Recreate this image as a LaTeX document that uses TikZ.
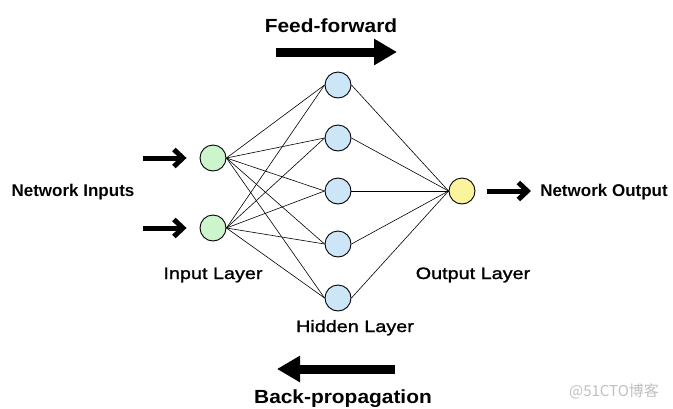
\documentclass[tikz,border=0pt]{standalone}
\usepackage{fontspec}
\setmainfont{Liberation Sans}
\newfontfamily\bigfont[FakeStretch=1.1]{Liberation Sans}
\newfontfamily\layerfont[FakeStretch=1.2,FakeBold=1.3]{Liberation Sans}
\newfontfamily\cjkfont{Noto Sans CJK SC}
\usetikzlibrary{arrows.meta}
\definecolor{ingreen}{HTML}{CCF5CC}
\definecolor{hidblue}{HTML}{CCE6F8}
\definecolor{outyellow}{HTML}{FAF59C}
\begin{document}
\begin{tikzpicture}[x=1pt,y=-1pt,
  neuron/.style={circle, draw=black, line width=0.9pt, minimum size=26pt, inner sep=0pt},
  inneuron/.style={neuron, fill=ingreen},
  hidneuron/.style={neuron, fill=hidblue},
  outneuron/.style={neuron, fill=outyellow},
  link/.style={line width=0.6pt},
  fatarrow/.style={line width=5pt, -{Straight Barb[length=9pt,width=17pt]}},
  bigarrow/.style={line width=9pt, -{Triangle[length=23pt,width=25pt]}},
  bigtext/.style={font=\bigfont\bfseries\fontsize{19}{22}\selectfont, anchor=base, inner sep=0pt},
  iotext/.style={font=\bfseries\fontsize{17}{20}\selectfont, anchor=base, inner sep=0pt},
  layertext/.style={font=\layerfont\fontsize{16.5}{19}\selectfont, anchor=base, inner sep=0pt},
  marktext/.style={font=\cjkfont\fontsize{15}{18}\selectfont, text=black!25, anchor=base, inner sep=0pt}
]
\useasboundingbox (0,0) rectangle (673,408);

% neurons
\node[inneuron] (i1) at (213,158) {};
\node[inneuron] (i2) at (213,228) {};
\node[hidneuron] (h1) at (338,85) {};
\node[hidneuron] (h2) at (338,138) {};
\node[hidneuron] (h3) at (338,191) {};
\node[hidneuron] (h4) at (338,244) {};
\node[hidneuron] (h5) at (338,298) {};
\node[outneuron] (o) at (462,191) {};

% links
\foreach \i in {i1,i2}{
  \foreach \h in {h1,h2,h3,h4,h5}{
    \draw[link] (\i.east) -- (\h.west);
  }
}
\foreach \h in {h1,h2,h3,h4,h5}{
  \draw[link] (\h.east) -- (o.west);
}

% input / output arrows
\coordinate (a1) at (143,158);
\coordinate (a2) at (143,228);
\coordinate (ao) at (531,191);
\draw[fatarrow, shorten >=13pt] (a1) -- (i1);
\draw[fatarrow, shorten >=13pt] (a2) -- (i2);
\draw[fatarrow, shorten <=12pt] (o) -- (ao);

% big arrows
\coordinate (ff1) at (276,52);
\coordinate (ff2) at (397,52);
\coordinate (bp1) at (395,369);
\coordinate (bp2) at (277,369);
\draw[bigarrow] (ff1) -- (ff2);
\draw[bigarrow] (bp1) -- (bp2);

% texts
\node[bigtext] (tff) at (331,32) {Feed-forward};
\node[bigtext] (tbp) at (343,403) {Back-propagation};
\node[iotext] (tin) at (73,196) {Network Inputs};
\node[iotext] (tout) at (604,196) {Network Output};
\node[layertext] (lin) at (213,279) {Input Layer};
\node[layertext] (lhid) at (355,332) {Hidden Layer};
\node[layertext] (lout) at (473,279) {Output Layer};
\node[marktext] (wm) at (614,396) {@51CTO博客};
\end{tikzpicture}
\end{document}
